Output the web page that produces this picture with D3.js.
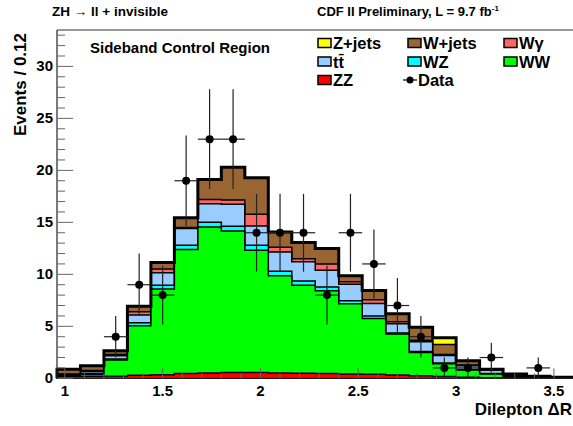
<!DOCTYPE html>
<html>
<head>
<meta charset="utf-8">
<script src="https://cdn.jsdelivr.net/npm/d3@7"></script>
<style>
  body { margin: 0; background: #fff; }
  svg { display: block; }
  text { font-family: "Liberation Sans", Arial, Helvetica, sans-serif; font-weight: bold; fill: #000; }
</style>
</head>
<body>
<svg id="chart" width="573" height="426"></svg>
<script>
// Binning of the dilepton ΔR distribution
const binLow = 0.96;
const binWidth = 0.12;

// Expected yields per bin, one array per process (stacked bottom to top)
const zz     = [0.20, 0.20, 0.20, 0.30, 0.35, 0.45, 0.52, 0.55, 0.55, 0.50, 0.48, 0.45, 0.42, 0.38, 0.32, 0.25, 0.18, 0.10, 0.05, 0.03, 0.01, 0.01];
const ww     = [0.05, 0.20, 1.56, 4.76, 8.25, 11.95, 14.03, 13.62, 11.77, 9.36, 8.48, 7.97, 6.75, 5.36, 3.93, 2.23, 1.22, 0.70, 0.37, 0.10, 0.05, 0.02];
const wz     = [0.02, 0.05, 0.10, 0.29, 0.36, 0.40, 0.45, 0.45, 0.48, 0.44, 0.39, 0.35, 0.29, 0.26, 0.10, 0.10, 0.07, 0.05, 0.03, 0.02, 0.01, 0.01];
const ttbar  = [0.10, 0.20, 0.31, 0.74, 1.20, 1.60, 1.78, 2.11, 1.84, 1.85, 1.85, 1.63, 1.59, 1.20, 0.89, 0.94, 0.73, 0.35, 0.32, 0.10, 0.05, 0.02];
const wgamma = [0.05, 0.10, 0.13, 0.31, 0.36, 0.10, 0.42, 0.43, 1.13, 0.45, 0.30, 0.60, 0.24, 0.35, 0.21, 0.14, 0.10, 0.08, 0.03, 0.02, 0.01, 0.01];
const wjets  = [0.45, 0.45, 0.36, 0.52, 0.62, 0.95, 1.93, 3.14, 3.52, 1.47, 1.56, 1.48, 0.58, 0.90, 0.77, 1.24, 0.94, 0.40, 0.08, 0.15, 0.07, 0.03];
const zjets  = [0, 0, 0, 0, 0, 0, 0, 0, 0, 0, 0, 0, 0, 0, 0, 0, 0.66, 0, 0, 0, 0, 0];

// Observed events per bin
const observed = [0, 0, 4, 9, 8, 19, 23, 23, 14, 14, 14, 8, 14, 11, 7, 4, 1, 1, 2, 0, 1, 0];

// Axis tick labels
const xTickValues = [1, 1.5, 2, 2.5, 3, 3.5];
const xTickLabels = ["1", "1.5", "2", "2.5", "3", "3.5"];
const yTickValues = [0, 5, 10, 15, 20, 25, 30];
const yTickLabels = ["0", "5", "10", "15", "20", "25", "30"];

// Process names and fill colours, bottom of the stack first
const processKeys   = ["ZZ", "WW", "WZ", "tt", "Wg", "Wjets", "Zjets"];
const processSeries = [zz, ww, wz, ttbar, wgamma, wjets, zjets];
const processColors = ["#ff0000", "#00ff00", "#00ffff", "#99ccff", "#ff6666", "#996633", "#ffff00"];

const nBins = observed.length;
const rows = d3.range(nBins).map(i => {
  const r = { lo: binLow + i * binWidth, hi: binLow + (i + 1) * binWidth };
  processKeys.forEach((k, j) => { r[k] = processSeries[j][i]; });
  return r;
});

const svg = d3.select("#chart");
const plotLeft = 57, plotRight = 573.5, plotTop = 30, plotBottom = 378.3;

const x = d3.scaleLinear().domain([binLow, binLow + nBins * binWidth]).range([plotLeft, plotRight]);
const y = d3.scaleLinear().domain([0, 33.5]).range([plotBottom, plotTop]);

const layers = d3.stack().keys(processKeys)(rows);

// Each cumulative histogram is filled from zero, drawn from the top of the stack down
const stepLine = d3.line().x(d => d[0]).y(d => d[1]);
function stepPoints(layer) {
  const pts = [[x(rows[0].lo), y(0)]];
  layer.forEach((seg, i) => {
    pts.push([x(rows[i].lo), y(seg[1])]);
    pts.push([x(rows[i].hi), y(seg[1])]);
  });
  pts.push([x(rows[nBins - 1].hi), y(0)]);
  return pts;
}

const stackG = svg.append("g");
for (let j = layers.length - 1; j >= 0; j--) {
  stackG.append("path")
    .attr("d", stepLine(stepPoints(layers[j])))
    .attr("fill", processColors[j])
    .attr("stroke", "#000")
    .attr("stroke-width", 1.5)
    .attr("stroke-linejoin", "miter");
}
// Thick outline of the total expectation
stackG.append("path")
  .attr("d", stepLine(stepPoints(layers[layers.length - 1])))
  .attr("fill", "none")
  .attr("stroke", "#000")
  .attr("stroke-width", 3);

// Frame and axes
svg.append("line").attr("x1", plotLeft).attr("x2", 573).attr("y1", plotTop).attr("y2", plotTop)
  .attr("stroke", "#999").attr("stroke-width", 2);
svg.append("line").attr("x1", plotLeft).attr("x2", plotLeft).attr("y1", plotTop).attr("y2", plotBottom)
  .attr("stroke", "#222").attr("stroke-width", 1.2);
svg.append("line").attr("x1", plotLeft).attr("x2", 573).attr("y1", plotBottom).attr("y2", plotBottom)
  .attr("stroke", "#222").attr("stroke-width", 1.2);

const axisG = svg.append("g");
// y ticks: major every 5, minor every 1, pointing into the frame
d3.range(0, 34).forEach(v => {
  const major = v % 5 === 0;
  axisG.append("line")
    .attr("x1", plotLeft).attr("x2", plotLeft + (major ? 16 : 8))
    .attr("y1", y(v)).attr("y2", y(v))
    .attr("stroke", "#666").attr("stroke-width", 1);
});
// x ticks: major every 0.5, minor every 0.1
d3.range(10, 37).forEach(k => {
  const v = k / 10;
  const major = k % 5 === 0;
  axisG.append("line")
    .attr("x1", x(v)).attr("x2", x(v))
    .attr("y1", plotBottom).attr("y2", plotBottom - (major ? 10 : 5))
    .attr("stroke", "#666").attr("stroke-width", 1);
});

yTickValues.forEach((v, i) => {
  axisG.append("text").attr("x", 53).attr("y", y(v) + 5)
    .attr("text-anchor", "end").attr("font-size", 15).text(yTickLabels[i]);
});
xTickValues.forEach((v, i) => {
  axisG.append("text").attr("x", x(v)).attr("y", 396)
    .attr("text-anchor", "middle").attr("font-size", 15).text(xTickLabels[i]);
});

svg.append("text").attr("transform", "translate(25.5,33) rotate(-90)")
  .attr("text-anchor", "end").attr("font-size", 17).text("Events / 0.12");
svg.append("text").attr("x", 572).attr("y", 415)
  .attr("text-anchor", "end").attr("font-size", 17).text("Dilepton ΔR");

// Observed data with Poisson errors
const dataG = svg.append("g");
observed.forEach((n, i) => {
  if (n <= 0) return;
  const cx = x(rows[i].lo + binWidth / 2);
  const err = Math.sqrt(n);
  dataG.append("line").attr("x1", cx).attr("x2", cx)
    .attr("y1", y(n - err)).attr("y2", y(n + err))
    .attr("stroke", "#222").attr("stroke-width", 1.2);
  dataG.append("line").attr("x1", x(rows[i].lo)).attr("x2", x(rows[i].hi))
    .attr("y1", y(n)).attr("y2", y(n))
    .attr("stroke", "#222").attr("stroke-width", 1.2);
  dataG.append("circle").attr("cx", cx).attr("cy", y(n)).attr("r", 4).attr("fill", "#000");
});

// Titles
svg.append("text").attr("x", 52).attr("y", 16).attr("font-size", 13.5).text("ZH → ll + invisible");
const cdf = svg.append("text").attr("x", 317).attr("y", 16).attr("font-size", 13);
cdf.append("tspan").text("CDF II Preliminary, L = 9.7 fb");
cdf.append("tspan").attr("dy", -5).attr("font-size", 8).text("-1");

svg.append("text").attr("x", 90).attr("y", 53).attr("font-size", 15).text("Sideband Control Region");

// Legend
const legendItems = [
  { label: "Z+jets", color: "#ffff00", col: 0, row: 0 },
  { label: "W+jets", color: "#996633", col: 1, row: 0 },
  { label: "Wγ",     color: "#ff6666", col: 2, row: 0 },
  { label: "tt̄",     color: "#99ccff", col: 0, row: 1 },
  { label: "WZ",     color: "#00ffff", col: 1, row: 1 },
  { label: "WW",     color: "#00ff00", col: 2, row: 1 },
  { label: "ZZ",     color: "#ff0000", col: 0, row: 2 },
  { label: "Data",   color: null,      col: 1, row: 2 }
];
const legendCols = [318, 408, 504];
const legendRows = [43, 61.5, 80];
const legG = svg.append("g");
legendItems.forEach(it => {
  const lx = legendCols[it.col], ly = legendRows[it.row];
  if (it.color) {
    legG.append("rect").attr("x", lx).attr("y", ly - 4.5).attr("width", 13).attr("height", 9)
      .attr("fill", it.color).attr("stroke", "#000").attr("stroke-width", 1.5);
  } else {
    legG.append("line").attr("x1", lx - 5).attr("x2", lx + 9).attr("y1", ly).attr("y2", ly)
      .attr("stroke", "#000").attr("stroke-width", 1.2);
    legG.append("circle").attr("cx", lx + 2).attr("cy", ly).attr("r", 3.5).attr("fill", "#000");
  }
  legG.append("text").attr("x", it.color ? lx + 15 : lx + 10).attr("y", ly + 6)
    .attr("font-size", 16.5).text(it.label);
});
</script>
</body>
</html>
